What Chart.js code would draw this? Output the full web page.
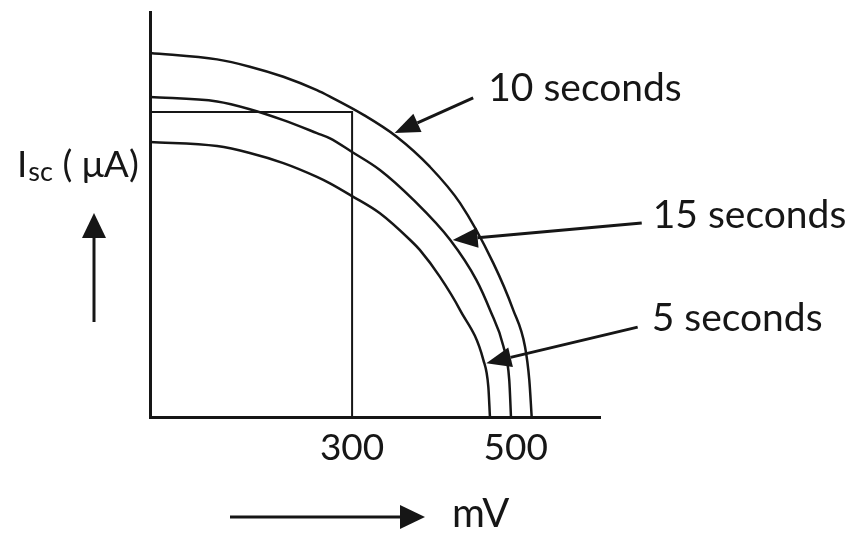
<!DOCTYPE html>
<html>
<head>
<meta charset="utf-8">
<script src="https://cdn.jsdelivr.net/npm/chart.js@4.4.1/dist/chart.umd.min.js"></script>
<style>
  html, body { margin: 0; padding: 0; background: #fff; }
  #wrap { width: 854px; height: 533px; }
</style>
</head>
<body>
<div id="wrap"><canvas id="myChart"></canvas></div>
<script>
// voltage (mV) and short-circuit current (arbitrary µA units)
const voltage10s = [53, 135, 175, 216, 257, 273, 314, 354.5, 395, 432, 472.6, 497, 511.3, 516.6, 519.5];
const current10s = [89.9, 88.3, 86.5, 84.0, 80.7, 79.1, 74.6, 69.2, 61.8, 52.8, 38.0, 26.4, 17.4, 9.1, 0];

const voltage15s = [53, 135, 175, 216, 257, 273, 299.5, 334, 375, 420, 452, 468.6, 485, 492.1, 494.2];
const current15s = [79.0, 77.9, 76.0, 73.3, 70.1, 68.8, 65.5, 61.0, 53.6, 43.7, 33.8, 26.4, 17.4, 9.1, 0];

const voltage5s = [53, 135, 175, 216, 257, 273, 299.5, 334, 371, 383, 407.4, 432, 460.4, 466.5, 468.5];
const current5s = [67.9, 66.9, 65.2, 62.7, 59.3, 57.7, 54.6, 50.3, 43.7, 41.2, 34.6, 26.4, 14.1, 7.5, 0];

const rectVoltage = [53, 300, 300];
const rectCurrent = [75.3, 75.3, 0];

const xTicks = [300, 500];

const INK = "#161616";
const FONT = "Lato, 'Open Sans', sans-serif";

function toPoints(xs, ys) {
  return xs.map((x, i) => ({ x: x, y: ys[i] }));
}

// labels with arrows pointing at curves (tip/tail in data units)
const callouts = [
  { text: "10 seconds", tip: [352, 70.1], tail: [448, 78.8], dx: 15, dy: -9 },
  { text: "15 seconds", tip: [423, 43.7], tail: [654, 47.9], dx: 11, dy: -8 },
  { text: "5 seconds", tip: [464, 13.3], tail: [649, 22.2], dx: 14, dy: -9 },
];

function arrow(c, x1, y1, x2, y2, head, half) {
  const a = Math.atan2(y2 - y1, x2 - x1);
  const bx = x2 - head * Math.cos(a);
  const by = y2 - head * Math.sin(a);
  c.beginPath();
  c.moveTo(x1, y1);
  c.lineTo(bx, by);
  c.stroke();
  c.beginPath();
  c.moveTo(x2, y2);
  c.lineTo(bx + half * Math.sin(a), by - half * Math.cos(a));
  c.lineTo(bx - half * Math.sin(a), by + half * Math.cos(a));
  c.closePath();
  c.fill();
}

const sketchPlugin = {
  id: "sketch",
  afterDraw(chart) {
    const c = chart.ctx;
    const xs = chart.scales.x;
    const ys = chart.scales.y;
    c.save();
    c.strokeStyle = INK;
    c.fillStyle = INK;
    c.lineWidth = 3;
    c.textBaseline = "middle";
    c.textAlign = "left";
    c.font = "39px " + FONT;

    for (const co of callouts) {
      const tx = xs.getPixelForValue(co.tail[0]);
      const ty = ys.getPixelForValue(co.tail[1]);
      const px = xs.getPixelForValue(co.tip[0]);
      const py = ys.getPixelForValue(co.tip[1]);
      arrow(c, tx, ty, px, py, 25, 10);
      c.fillText(co.text, tx + co.dx, ty + co.dy);
    }

    // y axis title with subscript
    c.textBaseline = "alphabetic";
    let x = 17;
    c.font = "37px " + FONT;
    c.fillText("I", x, 177);
    x += c.measureText("I").width + 1;
    c.font = "27px " + FONT;
    c.fillText("sc", x, 181);
    x += c.measureText("sc").width;
    c.font = "37px " + FONT;
    c.fillText(" ( \u03bcA)", x, 177);

    // direction arrows
    arrow(c, 94, 322, 94, 213, 25, 12);
    arrow(c, 230, 517, 425, 517, 25, 12);
    c.textBaseline = "middle";
    c.font = "40px " + FONT;
    c.fillText("mV", 452, 514);
    c.restore();
  },
};

new Chart(document.getElementById("myChart"), {
  type: "line",
  data: {
    datasets: [
      { label: "10 seconds", data: toPoints(voltage10s, current10s) },
      { label: "15 seconds", data: toPoints(voltage15s, current15s) },
      { label: "5 seconds", data: toPoints(voltage5s, current5s) },
      { label: "operating point", data: toPoints(rectVoltage, rectCurrent), tension: 0, borderWidth: 2 },
    ],
  },
  options: {
    responsive: true,
    maintainAspectRatio: false,
    animation: false,
    events: [],
    layout: { padding: { left: 150, right: 254, top: 12, bottom: 0 } },
    elements: {
      line: { borderColor: INK, borderWidth: 2.5, cubicInterpolationMode: "monotone", fill: false },
      point: { radius: 0 },
    },
    plugins: { legend: { display: false }, tooltip: { enabled: false } },
    scales: {
      x: {
        type: "linear",
        min: 53,
        max: 603,
        afterBuildTicks: (scale) => {
          scale.ticks = xTicks.map((v) => ({ value: v }));
        },
        afterFit: (scale) => { scale.height = 116; },
        grid: { display: false, drawTicks: false },
        border: { color: INK, width: 3 },
        ticks: {
          autoSkip: false,
          padding: 9,
          color: INK,
          font: { family: FONT, size: 37 },
          maxRotation: 0,
        },
      },
      y: {
        min: 0,
        max: 100,
        afterFit: (scale) => { scale.width = 0; },
        grid: { display: false, drawTicks: false },
        border: { color: INK, width: 3 },
        ticks: { display: false },
      },
    },
  },
  plugins: [sketchPlugin],
});
</script>
</body>
</html>
